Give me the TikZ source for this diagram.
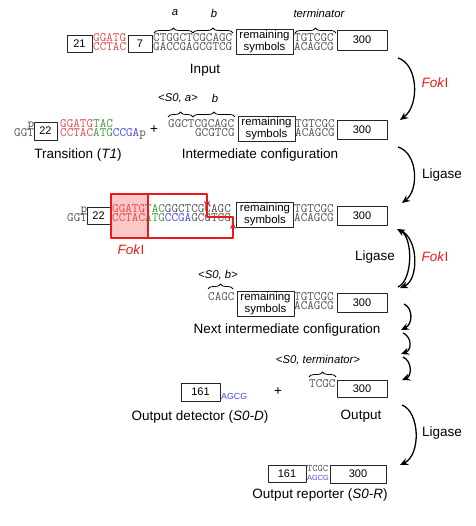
\documentclass[tikz,border=0pt]{standalone}
\usepackage{fontspec}
\setmainfont{Liberation Sans}
\usepackage{tikz}
\usetikzlibrary{arrows.meta,decorations.pathreplacing}
\definecolor{seqgray}{RGB}{80,80,80}
\definecolor{seqred}{RGB}{232,70,70}
\definecolor{seqgreen}{RGB}{60,150,60}
\definecolor{seqblue}{RGB}{70,70,230}
\definecolor{fokred}{RGB}{235,25,25}
\definecolor{fokfill}{RGB}{250,200,200}
\newcommand{\sred}[1]{\textcolor{seqred}{#1}}
\newcommand{\sgrn}[1]{\textcolor{seqgreen}{#1}}
\newcommand{\sblu}[1]{\textcolor{seqblue}{#1}}
\newcommand{\fokname}{\textcolor{fokred}{\textit{Fok}I}}
\tikzset{
  every picture/.style={line join=round, >=Stealth},
  box/.style={draw=black!85, line width=0.8pt, inner sep=0pt, font=\fontsize{11}{12}\selectfont},
  rembox/.style={box, minimum width=57pt, minimum height=25pt, align=center, font=\fontsize{11.4}{12}\selectfont},
  numbox/.style={box, minimum width=50pt, minimum height=19pt},
  seq/.style={inner sep=0pt, anchor=base west, text=seqgray, font=\ttfamily\fontsize{12.8}{11}\selectfont},
  lbl/.style={inner sep=0pt, font=\fontsize{13.5}{15}\selectfont},
  tag/.style={inner sep=0pt, font=\itshape\fontsize{11.3}{12}\selectfont},
  brc/.style={decorate, decoration={brace, amplitude=5pt}, line width=0.8pt},
  react/.style={-{Stealth[length=8pt,width=7pt]}, line width=1.3pt},
}
\begin{document}
\begin{tikzpicture}[x=1pt,y=-1pt]
\useasboundingbox (0,0) rectangle (475,526);
% input
\node[box, minimum width=25pt, minimum height=17pt] (b21) at (79.5,43.5) {21};
\node[seq, text=seqred] (in-rt) at (93,42) {GGATG};
\node[seq, text=seqred] (in-rb) at (93,51) {CCTAC};
\node[box, minimum width=24pt, minimum height=17pt] (b7) at (140,43.5) {7};
\node[seq] (in-t) at (153,42) {CTGGCTCGCAGC};
\node[seq] (in-b) at (153,51) {GACCGAGCGTCG};
\node[rembox] (rem1) at (264.5,42) {remaining\\symbols};
\node[seq] (in-tt) at (294,42) {TGTCGC};
\node[seq] (in-tb) at (294,51) {ACAGCG};
\node[numbox, minimum height=20pt] (b300a) at (362,40) {300};
\draw[brc] (154,33) -- (193,33);
\draw[brc] (193,33) -- (233,33);
\draw[brc] (295,33) -- (336,33);
\node[tag] (ta) at (175,13) {a};
\node[tag] (tb) at (214,13) {b};
\node[tag] (tterm) at (319,13) {terminator};
\node[lbl] (l-in) at (205,70) {Input};
% transition T1 + intermediate configuration
\node[seq] (t1-p) at (27.4,127.5) {p};
\node[seq] (t1-ggt) at (14,136.5) {GGT};
\node[box, minimum width=23pt, minimum height=18pt] (b22a) at (45.5,131) {22};
\node[seq] (t1-t) at (60,127.5) {\sred{GGATG}\sgrn{TAC}};
\node[seq] (t1-b) at (60,136.5) {\sred{CCTAC}\sgrn{ATG}\sblu{CCGA}p};
\node[lbl] (plus1) at (154,130) {+};
\node[seq] (ic-t) at (168,127.5) {GGCTCGCAGC};
\node[seq] (ic-b) at (194.9,136.5) {GCGTCG};
\node[rembox] (rem2) at (266.5,129) {remaining\\symbols};
\node[seq] (ic-tt) at (295,127.5) {TGTCGC};
\node[seq] (ic-tb) at (295,136.5) {ACAGCG};
\node[numbox] (b300b) at (362,130) {300};
\draw[brc] (168,117) -- (193,117);
\draw[brc] (193,117) -- (235,117);
\node[tag] (ts0a) at (178,98) {<S0, a>};
\node[tag] (tb2) at (215,98) {b};
\node[lbl] (l-t1) at (78,155) {Transition (\textit{T1})};
\node[lbl] (l-ic) at (260,155) {Intermediate configuration};
% ligated complex with FokI site
\fill[fokfill] (111,194) rectangle (148,238);
\node[seq] (lc-p) at (80.4,213) {p};
\node[seq] (lc-ggt) at (67,222) {GGT};
\node[box, minimum width=23pt, minimum height=17pt] (b22b) at (98.5,216) {22};
\node[seq] (lc-t) at (112,213) {\sred{GGATG}\sgrn{TAC}GGCTCGCAGC};
\node[seq] (lc-b) at (112,222) {\sred{CCTAC}\sgrn{ATG}\sblu{CCGA}GCGTCG};
\draw[fokred, line width=1.2pt] (111,194) rectangle (148,238);
\draw[fokred, line width=1.2pt] (148,194) -- (207,194) -- (207,217) -- (233,217) -- (233,238) -- (148,238);
\draw[fokred, line width=1.2pt, -{Stealth[length=7pt,width=6pt]}] (207,194) -- (207,208);
\draw[fokred, line width=1.2pt, -{Stealth[length=7pt,width=6pt]}] (233,238) -- (233,222);
\node[rembox] (rem3) at (265,214.5) {remaining\\symbols};
\node[seq] (lc-tt) at (294,213) {TGTCGC};
\node[seq] (lc-tb) at (294,222) {ACAGCG};
\node[numbox] (b300c) at (362,216) {300};
\node[lbl] (l-fok) at (131,250) {\fokname};
% next intermediate configuration
\draw[brc] (208,289) -- (233,289);
\node[tag] (ts0b) at (218,275) {<S0, b>};
\node[seq] (nc-t) at (208,300.5) {CAGC};
\node[rembox] (rem4) at (265.5,303.5) {remaining\\symbols};
\node[seq] (nc-tt) at (294,300.5) {TGTCGC};
\node[seq] (nc-tb) at (294,309.5) {ACAGCG};
\node[numbox] (b300d) at (362,302.5) {300};
\node[lbl] (l-nc) at (287,330) {Next intermediate configuration};
% output detector + output
\node[box, minimum width=39pt, minimum height=18pt] (b161a) at (200.5,392) {161};
\node[inner sep=0pt, anchor=base west, text=seqblue, font=\fontsize{8.8}{10}\selectfont] (od-b) at (221,399.5) {AGCG};
\node[lbl] (plus2) at (278,392) {+};
\draw[brc] (309,377) -- (336,377);
\node[tag] (ts0t) at (318,360) {<S0, terminator>};
\node[seq] (op-t) at (309,387.5) {TCGC};
\node[numbox, minimum height=17pt] (b300e) at (362,388.5) {300};
\node[lbl] (l-od) at (200,417) {Output detector (\textit{S0-D})};
\node[lbl] (l-op) at (361,416) {Output};
% output reporter
\node[box, minimum width=38pt, minimum height=17pt] (b161b) at (287,473.5) {161};
\node[seq, font=\ttfamily\fontsize{10}{10}\selectfont] (or-t) at (307,471.5) {TCGC};
\node[inner sep=0pt, anchor=base west, text=seqblue, font=\fontsize{7.4}{9}\selectfont] (or-b) at (307,480.5) {AGCG};
\node[numbox, minimum width=56pt, minimum height=18pt] (b300f) at (358,474) {300};
\node[lbl] (l-or) at (320,495) {Output reporter (\textit{S0-R})};
% reaction arrows
\coordinate (r1s) at (398,58);  \coordinate (r1e) at (400,120);
\coordinate (r2s) at (398,147); \coordinate (r2e) at (402,203);
\coordinate (r3s) at (400,230); \coordinate (r3e) at (400,288);
\coordinate (r4s) at (398,287); \coordinate (r4e) at (397,229);
\coordinate (r5s) at (404,304); \coordinate (r5e) at (401,330);
\coordinate (r6s) at (403,333); \coordinate (r6e) at (401,354);
\coordinate (r7s) at (403,357); \coordinate (r7e) at (402,380);
\coordinate (r8s) at (402,405); \coordinate (r8e) at (400,465);
\draw[react] (r1s) .. controls (418,64) and (420,105) .. (r1e);
\draw[react] (r2s) .. controls (418,153) and (419,190) .. (r2e);
\draw[react] (r3s) .. controls (419,238) and (419,280) .. (r3e);
\draw[react] (r4s) .. controls (413,280) and (413,238) .. (r4e);
\draw[react] (r5s) .. controls (413,308) and (413,324) .. (r5e);
\draw[react] (r6s) .. controls (412,337) and (412,350) .. (r6e);
\draw[react] (r7s) .. controls (412,361) and (412,376) .. (r7e);
\draw[react] (r8s) .. controls (420,412) and (421,455) .. (r8e);
\node[lbl] (k1) at (435,83) {\fokname};
\node[lbl] (k2) at (442,175) {Ligase};
\node[lbl] (k3) at (375,257) {Ligase};
\node[lbl] (k4) at (435,257) {\fokname};
\node[lbl] (k5) at (442,433) {Ligase};
\end{tikzpicture}
\end{document}
